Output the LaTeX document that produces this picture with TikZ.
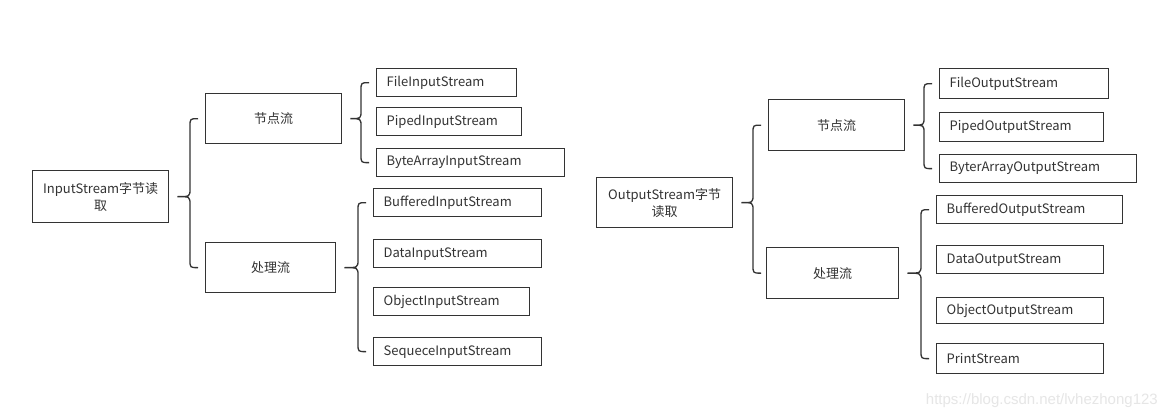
\documentclass[tikz,border=0pt]{standalone}
\usepackage{fontspec}
\setmainfont{Noto Sans CJK SC}
\newfontfamily\markfont{Liberation Sans}
\usetikzlibrary{calc}

\definecolor{boxgray}{HTML}{333333}
\definecolor{markgray}{HTML}{E6E6E6}

\tikzset{
	box/.style={draw=boxgray, line width=1.3pt, text=boxgray, anchor=north west,
		inner sep=0pt, font=\fontsize{13}{17}\selectfont},
	rootbox/.style={box, align=center},
	leaf/.style={box, text width=#1, inner xsep=10pt, align=left, minimum height=28pt},
	bracelink/.style={draw=boxgray, line width=1.3pt}
}

% brace from a parent box to its first and last child
\newcommand\streambrace[3]{%
	\draw[bracelink] let \p1=(#1.east), \p2=(#2.west), \p3=(#3.west) in
		(\x2-7pt,\y2) .. controls (\x2-15pt,\y2) .. (\x2-15pt,\y2-8pt)
		-- (\x2-15pt,\y1+8pt) .. controls (\x2-15pt,\y1) .. (\x1+8pt,\y1)
		.. controls (\x2-15pt,\y1) .. (\x2-15pt,\y1-8pt)
		-- (\x2-15pt,\y3+8pt) .. controls (\x2-15pt,\y3) .. (\x2-7pt,\y3);
}

\begin{document}
\begin{tikzpicture}[x=1pt, y=-1pt]
	\fill[white] (0,0) rectangle (1168,420);
	\useasboundingbox (0,0) rectangle (1168,420);

	% InputStream
	\node[rootbox, minimum width=136pt, minimum height=52pt] (inroot) at (32,170) {InputStream字节读\\取};
	\node[box, minimum width=136pt, minimum height=50pt] (innode) at (205,93) {节点流};
	\node[box, minimum width=130pt, minimum height=50pt] (inproc) at (205,242) {处理流};
	\node[leaf=120pt] (fis) at (376,68) {FileInputStream};
	\node[leaf=125pt] (pis) at (376,107) {PipedInputStream};
	\node[leaf=168pt] (bais) at (376,148) {ByteArrayInputStream};
	\node[leaf=148pt] (bis) at (373,188) {BufferedInputStream};
	\node[leaf=148pt] (dis) at (373,239) {DataInputStream};
	\node[leaf=136pt] (ois) at (373,287) {ObjectInputStream};
	\node[leaf=148pt] (sis) at (373,337) {SequeceInputStream};

	\streambrace{inroot}{innode}{inproc}
	\streambrace{innode}{fis}{bais}
	\streambrace{inproc}{bis}{sis}

	% OutputStream
	\node[rootbox, minimum width=136pt, minimum height=50pt] (outroot) at (596,177) {OutputStream字节\\读取};
	\node[box, minimum width=136pt, minimum height=51pt] (outnode) at (768,99) {节点流};
	\node[box, minimum width=132pt, minimum height=51pt] (outproc) at (766,247) {处理流};
	\node[leaf=149pt, minimum height=30pt] (fos) at (939,68) {FileOutputStream};
	\node[leaf=144pt, minimum height=29pt] (pos) at (939,112) {PipedOutputStream};
	\node[leaf=177pt] (baos) at (939,154) {ByterArrayOutputStream};
	\node[leaf=166pt] (bos) at (936,195) {BufferedOutputStream};
	\node[leaf=147pt] (dos) at (936,245) {DataOutputStream};
	\node[leaf=147pt, minimum height=26pt] (oos) at (936,297) {ObjectOutputStream};
	\node[leaf=147pt, minimum height=30pt] (ps) at (936,343) {PrintStream};

	\streambrace{outroot}{outnode}{outproc}
	\streambrace{outnode}{fos}{baos}
	\streambrace{outproc}{bos}{ps}

	\node[anchor=east, text=markgray, font=\markfont\fontsize{15}{18}\selectfont, inner sep=0pt] (mark) at (1158,401) {https://blog.csdn.net/lvhezhong123};
\end{tikzpicture}
\end{document}
